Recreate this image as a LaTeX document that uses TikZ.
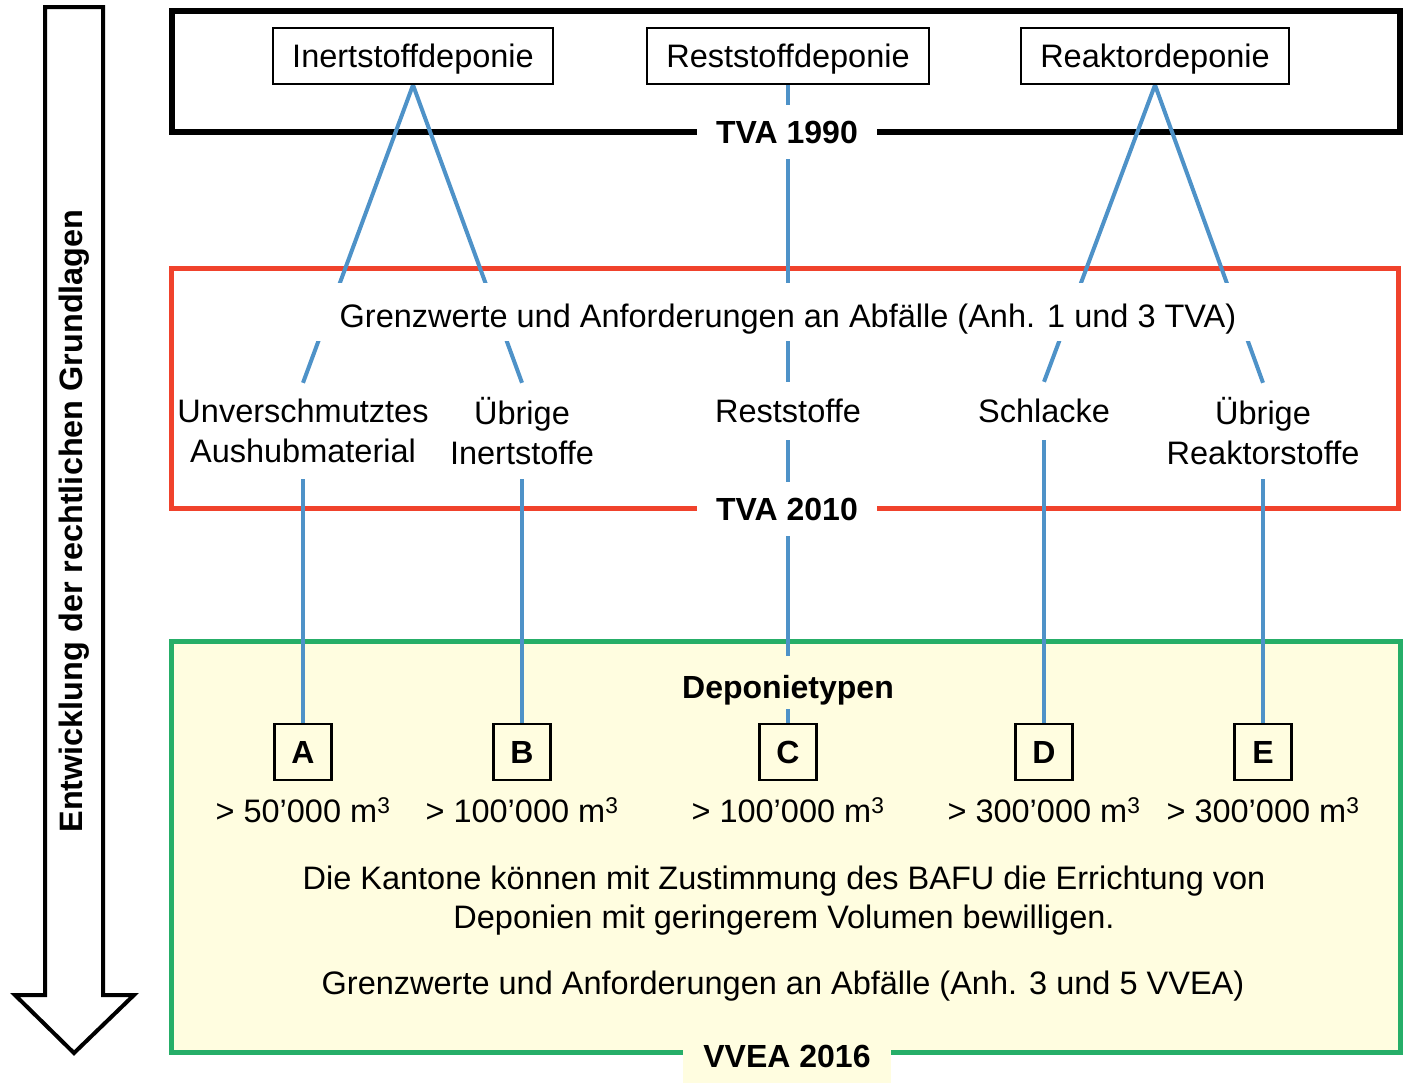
\documentclass[tikz,border=0pt]{standalone}
\usepackage{fontspec}
\setmainfont{Liberation Sans}
\pgfdeclarelayer{frames}
\pgfdeclarelayer{links}
\pgfsetlayers{frames,links,main}
\definecolor{lnblue}{RGB}{78,146,200}
\definecolor{frred}{RGB}{240,66,44}
\definecolor{frgreen}{RGB}{38,174,104}
\definecolor{pale}{RGB}{255,253,224}
\begin{document}
\begin{tikzpicture}[x=1pt,y=-1pt,
  every node/.style={font=\fontsize{32.5}{40}\selectfont, inner sep=0pt},
  topbox/.style={draw, line width=2pt, minimum height=56pt, text height=23pt, text depth=0pt},
  typebox/.style={draw, line width=2.5pt, minimum width=57pt, minimum height=56pt, font=\fontsize{32}{40}\selectfont\bfseries},
  framelabel/.style={font=\fontsize{32}{40}\selectfont\bfseries, fill=white, inner xsep=19pt, minimum height=54pt},
  item/.style={align=center},
  link/.style={draw=lnblue, line width=4pt},
  frame/.style={line width=5pt, miter limit=10}]
\useasboundingbox (0,0) rectangle (1404,1085);

% frames
\begin{pgfonlayer}{frames}
  \draw[frame, line width=6pt] (172,11) rectangle (1400,132);
  \draw[frame, draw=frred] (171,268) rectangle (1398,508);
  \draw[frame, draw=frgreen, fill=pale] (171,641) rectangle (1400,1052);
\end{pgfonlayer}

% left arrow
\draw[line width=4pt, line join=miter] (45,7) -- (103,7) -- (103,995) -- (134,995) -- (74,1053) -- (15,995) -- (45,995) -- cycle;
\node[rotate=90, font=\fontsize{32.4}{40}\selectfont\bfseries] (arrowtext) at (74,521) {Entwicklung der rechtlichen Grundlagen};

% top boxes
\node[topbox, minimum width=280pt] (inert) at (413,56) {Inertstoffdeponie};
\node[topbox, minimum width=282pt] (rest) at (788,56) {Reststoffdeponie};
\node[topbox, minimum width=268pt] (reakt) at (1155,56) {Reaktordeponie};

% frame labels
\node[framelabel] (tva1990) at (787,132) {TVA 1990};
\node[framelabel] (tva2010) at (787,509) {TVA 2010};
\node[framelabel, fill=pale, inner xsep=20pt] (vvea) at (787,1056) {VVEA 2016};

% TVA 2010 content
\node[fill=white, minimum height=58pt, text height=30pt, text depth=0pt, inner xsep=24pt] (grenz) at (788,312) {Grenzwerte und Anforderungen an Abfälle (Anh. 1 und 3 TVA)};
\node[item, minimum height=96pt] (unv) at (303,431) {Unverschmutztes\\Aushubmaterial};
\node[item, minimum height=96pt] (uinert) at (522,431) {Übrige\\Inertstoffe};
\node[item, minimum height=58pt] (rstoffe) at (788,411) {Reststoffe};
\node[item, minimum height=58pt] (schl) at (1044,411) {Schlacke};
\node[item, minimum height=96pt] (ureak) at (1263,431) {Übrige\\Reaktorstoffe};

% VVEA content
\node[font=\fontsize{32}{40}\selectfont\bfseries, fill=pale, minimum height=53pt, text height=33pt, text depth=0pt, inner xsep=10pt] (deptyp) at (788,682) {Deponietypen};
\node[typebox] (A) at (303,752) {A};
\node[typebox] (B) at (522,752) {B};
\node[typebox] (C) at (788,752) {C};
\node[typebox] (D) at (1044,752) {D};
\node[typebox] (E) at (1263,752) {E};

\node (volA) at (303,810) {> 50’000 m\textsuperscript{3}};
\node (volB) at (522,810) {> 100’000 m\textsuperscript{3}};
\node (volC) at (788,810) {> 100’000 m\textsuperscript{3}};
\node (volD) at (1044,810) {> 300’000 m\textsuperscript{3}};
\node (volE) at (1263,810) {> 300’000 m\textsuperscript{3}};

\node[align=center, font=\fontsize{32.5}{39}\selectfont] (kantone) at (784,901) {Die Kantone können mit Zustimmung des BAFU die Errichtung von\\Deponien mit geringerem Volumen bewilligen.};
\node (grenz2) at (783,986) {Grenzwerte und Anforderungen an Abfälle (Anh. 3 und 5 VVEA)};

% connectors
\begin{pgfonlayer}{links}
  \path[link] (inert.south) -- (unv.north);
  \path[link] (inert.south) -- (uinert.north);
  \path[link] (rest.south) -- (rstoffe.north);
  \path[link] (reakt.south) -- (schl.north);
  \path[link] (reakt.south) -- (ureak.north);
  \path[link] (unv.south) -- (A.north);
  \path[link] (uinert.south) -- (B.north);
  \path[link] (rstoffe.south) -- (C.north);
  \path[link] (schl.south) -- (D.north);
  \path[link] (ureak.south) -- (E.north);
\end{pgfonlayer}
\end{tikzpicture}
\end{document}
